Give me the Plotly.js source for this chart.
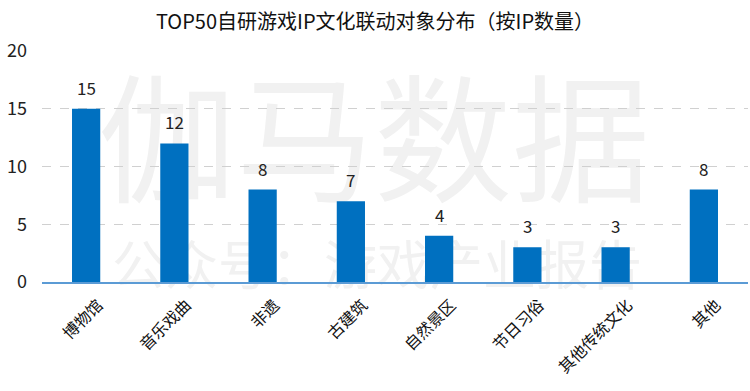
<!DOCTYPE html>
<html><head><meta charset="utf-8">
<script src="https://cdn.plot.ly/plotly-3.0.1.min.js"></script>
<style>
html,body{margin:0;padding:0;background:#fff;}
#wrap{position:relative;width:750px;height:391px;}
.wm{position:absolute;font-family:"Noto Sans CJK SC",sans-serif;color:#f1f1f1;white-space:nowrap;line-height:1;z-index:0;}
#chart{position:absolute;left:0;top:0;width:750px;height:391px;z-index:1;}
</style></head>
<body>
<div id="wrap">
<div class="wm" style="left:98px;top:62px;font-size:138px;">伽马数据</div>
<div class="wm" style="left:112px;top:236px;font-size:53px;">公众号：游戏产业报告</div>
<div id="chart"></div>
</div>
<script>
const categories = ["博物馆","音乐戏曲","非遗","古建筑","自然景区","节日习俗","其他传统文化","其他"];
const ipCounts = [15,12,8,7,4,3,3,8];
const yTicks = [0,5,10,15,20];
const titleText = "TOP50自研游戏IP文化联动对象分布（按IP数量）";

const font = '"Noto Sans CJK SC", "Microsoft YaHei", sans-serif';
const labels = categories.map((c,i)=>({
  x:c, y:ipCounts[i], xref:'x', yref:'y', text:String(ipCounts[i]),
  showarrow:false, yanchor:'bottom', yshift:7,
  font:{size:17,color:'#222',family:font}
}));
Plotly.newPlot('chart', [{
  type:'bar', x:categories, y:ipCounts,
  marker:{color:'#0070c0'},
  hoverinfo:'none'
}], {
  width:750, height:391,
  margin:{l:42,r:2,t:51,b:109},
  paper_bgcolor:'rgba(0,0,0,0)', plot_bgcolor:'rgba(0,0,0,0)',
  bargap:0.68,
  showlegend:false,
  annotations:labels,
  title:{text:titleText, x:0.5, xanchor:'center', y:0.945, yanchor:'middle', font:{size:20,color:'#111',family:font}},
  xaxis:{tickangle:-45, tickfont:{size:16,color:'#111',family:font}, showline:true, linecolor:'#5b9bd5', linewidth:1.5, ticks:'', showgrid:false, zeroline:false, ticklabelshift:12, ticklabelstandoff:6},
  yaxis:{range:[0,20], tickvals:yTicks, tickfont:{size:18,color:'#222',family:font}, showgrid:true, gridcolor:'#d0d0d0', griddash:'dash', gridwidth:1, zeroline:false, showline:false, ticks:'', ticklabelstandoff:14}
}, {staticPlot:true});
</script>
</body></html>
